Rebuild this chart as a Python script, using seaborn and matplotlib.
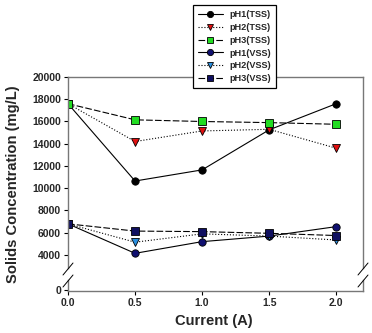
import numpy as np
import matplotlib.pyplot as plt
import seaborn as sns
import pandas as pd
from matplotlib.lines import Line2D

sns.set_style("ticks")
plt.rcParams["font.family"] = ["Liberation Sans", "DejaVu Sans"]
plt.rcParams["font.weight"] = "bold"

# Data
current = [0.0, 0.5, 1.0, 1.5, 2.0]
ph1_tss = [17600, 10650, 11650, 15250, 17600]
ph2_tss = [17600, 14200, 15150, 15300, 13600]
ph3_tss = [17600, 16150, 16000, 15900, 15750]
ph1_vss = [6800, 4150, 5200, 5700, 6550]
ph2_vss = [6800, 5150, 5900, 5700, 5350]
ph3_vss = [6800, 6150, 6100, 5950, 5750]

series = ["pH1(TSS)", "pH2(TSS)", "pH3(TSS)", "pH1(VSS)", "pH2(VSS)", "pH3(VSS)"]
values = [ph1_tss, ph2_tss, ph3_tss, ph1_vss, ph2_vss, ph3_vss]
markers = ["o", "v", "s", "o", "v", "s"]
faces = ["black", "#e01010", "#22dd22", "#101070", "#2a8fe0", "#101060"]
styles = ["-", ":", (0, (6, 2)), "-", ":", (0, (6, 2))]

W, H = 372, 333
fig = plt.figure(figsize=(W / 100, H / 100), dpi=100)

def fx(px):
    return px / W

def fy(py):
    return 1 - py / H

left, right, top, brk_top, brk_bot, bottom = 68, 363, 77, 268, 280, 291
ax = fig.add_axes([fx(left), fy(brk_top), fx(right - left), (brk_top - top) / H])
axb = fig.add_axes([fx(left), fy(bottom), fx(right - left), (bottom - brk_bot) / H])

for name, vals, m, fc, ls in zip(series, values, markers, faces, styles):
    df = pd.DataFrame({"Current": current, "Conc": vals})
    sns.lineplot(data=df, x="Current", y="Conc", ax=ax, color="black",
                 linestyle=ls, linewidth=0.8, marker=m, markersize=5.3,
                 markerfacecolor=fc, markeredgecolor="black",
                 markeredgewidth=0.6, label=name, legend=False)

spine_col = "#777777"
for a in (ax, axb):
    a.set_xlim(0, 2.2)
    for s in a.spines.values():
        s.set_color(spine_col)
        s.set_linewidth(1.0)
    a.tick_params(direction="out", length=3, width=0.8, color="black",
                  labelsize=7.5, pad=2)
    a.set_xlabel("")
    a.set_ylabel("")

ax.set_ylim(2831, 20000)
ax.set_yticks(np.arange(4000, 20001, 2000))
ax.set_xticks([])
ax.spines["bottom"].set_visible(False)

axb.set_ylim(-90, 900)
axb.set_yticks([0])
axb.set_xticks([0.0, 0.5, 1.0, 1.5, 2.0])
axb.set_xticklabels(["0.0", "0.5", "1.0", "1.5", "2.0"])
axb.spines["top"].set_visible(False)
axb.set_facecolor("none")

# axis break marks
for xp in (left, right):
    for yp in (brk_top + 1, brk_bot + 1):
        fig.add_artist(Line2D([fx(xp - 5), fx(xp + 5)], [fy(yp + 6), fy(yp - 6)],
                              transform=fig.transFigure, color="black", lw=0.7))

fig.text(fx(13), fy(184), "Solids Concentration (mg/L)", rotation=90,
         ha="center", va="center", fontsize=10.6, fontweight="bold")
fig.text(fx(214), fy(321), "Current (A)", ha="center", va="center",
         fontsize=10.6, fontweight="bold")

handles, labels = ax.get_legend_handles_labels()
leg = fig.legend(handles, labels, loc="upper left",
                 bbox_to_anchor=(fx(193), fy(5)), bbox_transform=fig.transFigure,
                 fontsize=6.6, frameon=True, fancybox=False, handlelength=2.7,
                 handletextpad=0.7, labelspacing=0.42, borderpad=0.55,
                 borderaxespad=0, markerscale=0.85)
leg.get_frame().set_edgecolor("black")
leg.get_frame().set_linewidth(0.9)
leg.get_frame().set_alpha(1)

fig.savefig("out.png", dpi=100)
